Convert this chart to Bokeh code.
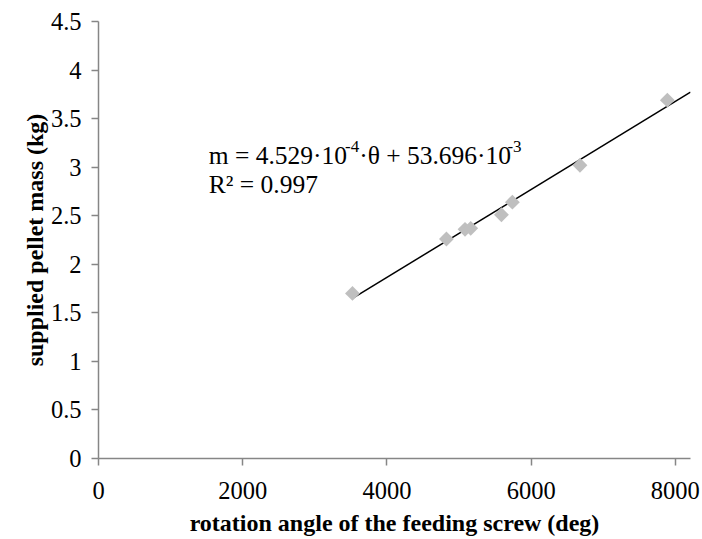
import numpy as np
from bokeh.plotting import figure
from bokeh.models import Range1d, FixedTicker, Label, ColumnDataSource
from bokeh.embed import file_html
from bokeh.resources import INLINE

# Data
rotation_deg = [3522, 4825, 5083, 5162, 5588, 5740, 6677, 7889]
pellet_mass_kg = [1.70, 2.26, 2.36, 2.37, 2.51, 2.64, 3.02, 3.69]

# Linear fit stated on the chart
slope = 4.529e-4
intercept = 53.696e-3

x_ticks = [0, 2000, 4000, 6000, 8000]
x_tick_labels = ["0", "2000", "4000", "6000", "8000"]
y_ticks = [0, 0.5, 1, 1.5, 2, 2.5, 3, 3.5, 4, 4.5]
y_tick_labels = ["0", "0.5", "1", "1.5", "2", "2.5", "3", "3.5", "4", "4.5"]

# equation pieces: (text, is_superscript)
eq_line1 = [("m = 4.529·10", False), ("-4", True), ("·θ + 53.696·10", False), ("-3", True)]
eq_line2 = "R² = 0.997"

X_MAX = 8210
Y_MAX = 4.5

FONT = "Liberation Serif"
AXIS_COLOR = "#868686"
EQ_SIZE = 25.5
SUP_SIZE = 17

# Times-compatible advance widths (per 1000 em) for placing the pieces
ADV = {" ": 250, "=": 564, "+": 564, ".": 250, "·": 250, "m": 778, "θ": 500, "-": 333}


def text_width(s, size):
    return sum(ADV.get(ch, 500) for ch in s) * size / 1000.0


p = figure(width=702, height=539, output_backend="svg", toolbar_location=None,
           x_range=Range1d(0, X_MAX), y_range=Range1d(0, Y_MAX),
           min_border_left=98, min_border_right=12, min_border_top=21, min_border_bottom=81)
p.outline_line_color = None
p.xgrid.visible = False
p.ygrid.visible = False
p.background_fill_color = "white"
p.border_fill_color = "white"

# trend line
trend_x = np.array([min(rotation_deg), X_MAX])
trend_y = slope * trend_x + intercept
p.line(trend_x, trend_y, line_color="black", line_width=1.5)

src = ColumnDataSource(dict(x=rotation_deg, y=pellet_mass_kg))
p.scatter("x", "y", source=src, marker="square", size=10.5, angle=np.pi / 4,
          fill_color="#BFBFBF", line_color=None)

for ax, ticks, labels in ((p.xaxis, x_ticks, x_tick_labels), (p.yaxis, y_ticks, y_tick_labels)):
    ax.ticker = FixedTicker(ticks=ticks)
    ax.major_label_overrides = {t: l for t, l in zip(ticks, labels)}
    ax.minor_tick_line_color = None
    ax.axis_line_color = AXIS_COLOR
    ax.axis_line_width = 1.5
    ax.major_tick_line_color = AXIS_COLOR
    ax.major_tick_line_width = 1.5
    ax.major_tick_in = 0
    ax.major_tick_out = 7
    ax.major_label_text_font = FONT
    ax.major_label_text_font_size = "24.5px"
    ax.major_label_text_color = "black"
    ax.axis_label_text_font = FONT
    ax.axis_label_text_font_style = "bold"
    ax.axis_label_text_font_size = "24px"
    ax.axis_label_text_color = "black"

p.xaxis.axis_label = "rotation angle of the feeding screw (deg)"
p.yaxis.axis_label = "supplied pellet mass (kg)"
p.xaxis.major_label_standoff = 16
p.xaxis.axis_label_standoff = 8
p.yaxis.major_label_standoff = 10
p.yaxis.axis_label_standoff = 0

EQ_X = 1529
LINE1_Y = 3.12
LINE2_Y = 2.82
SUP_RAISE = 9 / 97.2  # about 9 px in data units

offset = 0.0
for txt, sup in eq_line1:
    size = SUP_SIZE if sup else EQ_SIZE
    p.add_layout(Label(x=EQ_X, y=LINE1_Y + (SUP_RAISE if sup else 0), x_offset=offset, text=txt,
                       text_font=FONT, text_font_size=f"{size}px", text_color="black",
                       text_baseline="alphabetic"))
    offset += text_width(txt, size)

p.add_layout(Label(x=EQ_X, y=LINE2_Y, text=eq_line2,
                   text_font=FONT, text_font_size=f"{EQ_SIZE}px", text_color="black",
                   text_baseline="alphabetic"))

open("out.html", "w").write(file_html(p, INLINE))
